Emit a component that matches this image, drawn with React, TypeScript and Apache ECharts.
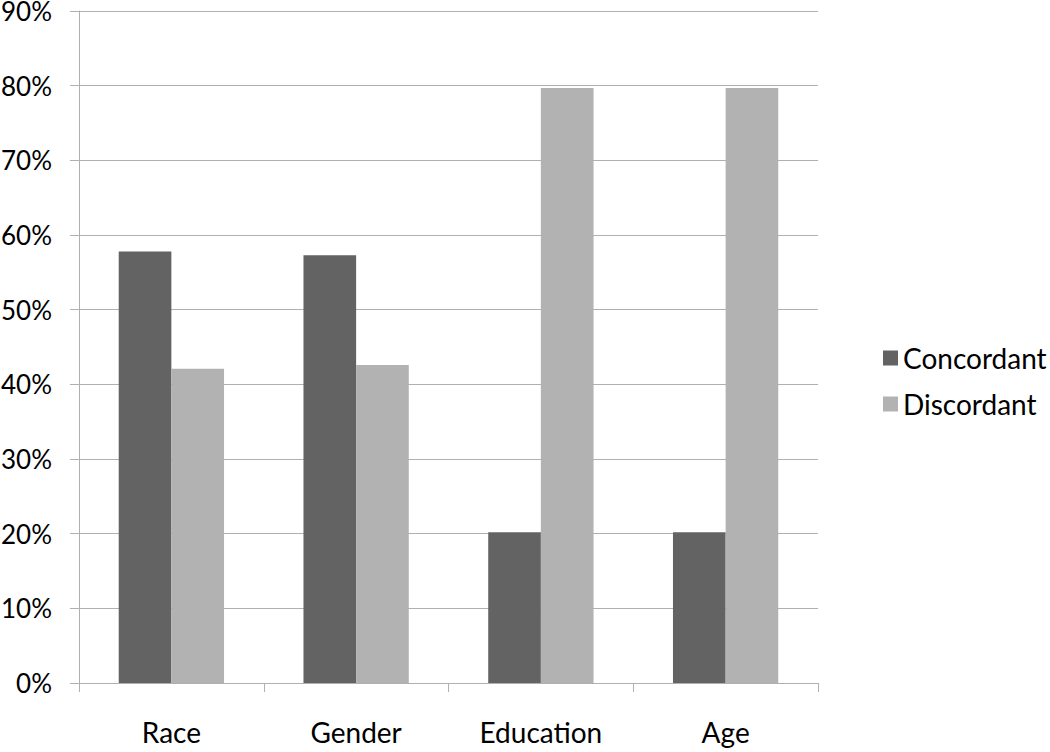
import React, { useEffect, useRef } from "react";
import * as echarts from "echarts";

const categories = ["Race", "Gender", "Education", "Age"];
const concordant = [57.8, 57.3, 20.2, 20.2];
const discordant = [42.1, 42.6, 79.7, 79.7];
const yTicks = [0, 10, 20, 30, 40, 50, 60, 70, 80, 90];

const FONT = "Lato";

export default function App() {
  const ref = useRef<HTMLDivElement>(null);
  useEffect(() => {
    if (!ref.current) return;
    const chart = echarts.init(ref.current, null, { renderer: "svg" });
    chart.setOption({
      animation: false,
      backgroundColor: "#ffffff",
      textStyle: { fontFamily: FONT },
      grid: {
        left: 79,
        right: 232,
        top: 11,
        bottom: 69,
        containLabel: false,
        outerBoundsMode: "none",
      },
      legend: {
        orient: "vertical",
        left: 878,
        top: 339,
        itemWidth: 15,
        itemHeight: 15,
        itemGap: 18,
        icon: "rect",
        textStyle: { fontFamily: FONT, fontSize: 28, color: "#000" },
        data: ["Concordant", "Discordant"],
      },
      xAxis: {
        type: "category",
        data: categories,
        axisLine: { lineStyle: { color: "#b0b0b0", width: 1 } },
        axisTick: { show: true, length: 9, lineStyle: { color: "#b0b0b0" } },
        axisLabel: { fontFamily: FONT, fontSize: 28, color: "#000", margin: 35 },
      },
      yAxis: {
        type: "value",
        min: yTicks[0],
        max: yTicks[yTicks.length - 1],
        interval: 10,
        axisLine: { show: true, lineStyle: { color: "#b0b0b0", width: 1 } },
        axisTick: { show: true, length: 9, lineStyle: { color: "#b0b0b0" } },
        splitLine: { lineStyle: { color: "#b0b0b0", width: 1 } },
        axisLabel: {
          fontFamily: FONT,
          fontSize: 26,
          color: "#000",
          margin: 27,
          formatter: (v: number) => `${v}%`,
        },
      },
      series: [
        {
          name: "Concordant",
          type: "bar",
          data: concordant,
          barGap: "0%",
          barCategoryGap: "43%",
          itemStyle: { color: "#636363" },
        },
        {
          name: "Discordant",
          type: "bar",
          data: discordant,
          barGap: "0%",
          barCategoryGap: "43%",
          itemStyle: { color: "#b2b2b2" },
        },
      ],
    });
    return () => chart.dispose();
  }, []);
  return <div ref={ref} style={{ width: 1050, height: 752, position: "absolute", left: 0, top: 0 }} />;
}
